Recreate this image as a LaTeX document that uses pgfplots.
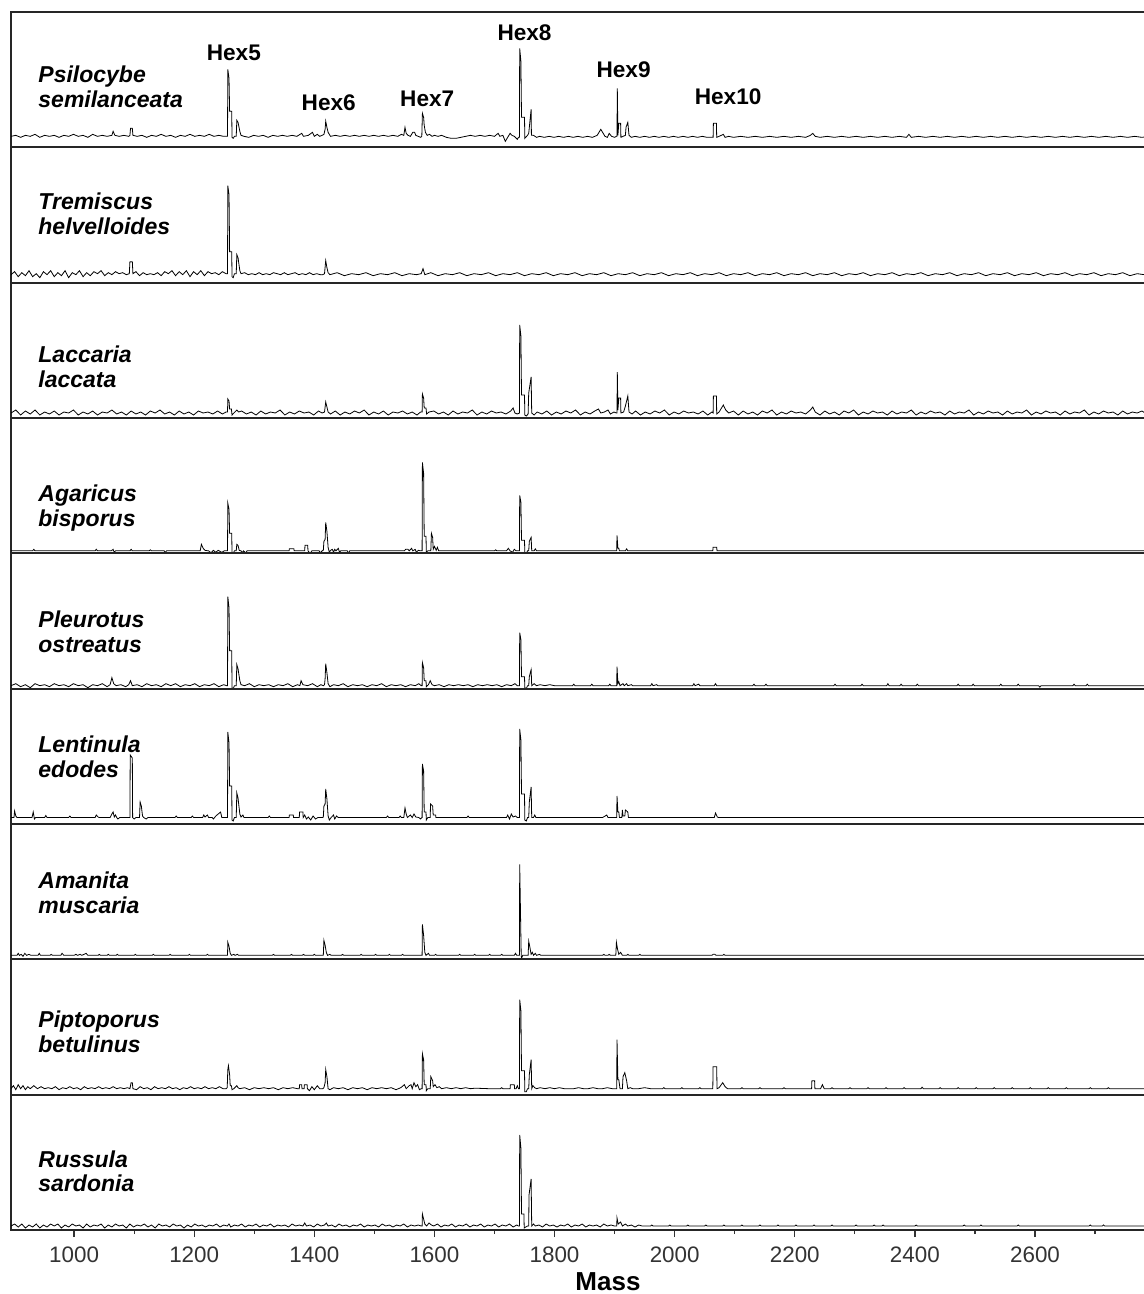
\documentclass[border=0pt]{standalone}
\usepackage{fontspec}
\setmainfont{Liberation Sans}
\usepackage{pgfplots}
\pgfplotsset{compat=1.18}
\usepgfplotslibrary{groupplots}
\usetikzlibrary{calc}

% 1 px of the reference = 0.5pt; y values are px above the panel floor
\tikzset{
  sp/.style={anchor=base west, inner sep=0pt, font=\fontsize{11.5}{13}\selectfont\bfseries\itshape},
  hx/.style={anchor=base, inner sep=0pt, font=\fontsize{11.3}{13}\selectfont\bfseries},
}

\begin{document}
\begin{tikzpicture}
\begin{groupplot}[
  group style={group size=1 by 9, vertical sep=0pt},
  scale only axis, width=597pt, height=67.667pt,
  xmin=895, xmax=2883, ymin=0, ymax=135.33,
  xtick=\empty, ytick=\empty,
  axis line style={line width=1pt, black!85},
  cycle list={{black, mark=none, line width=0.5pt}},
  no markers,
  /pgf/number format/1000 sep={}, /pgf/number format/assume math mode=true,
  scaled x ticks=false,
]
% ---- Psilocybe semilanceata
\nextgroupplot
\addplot coordinates {(895,11)(903,12)(911,10)(919,12)(927,11)(935,13)(943,10)(951,12)(959,11)(967,12)(975,10)(983,12)(991,11)(999,13)(1007,11)(1015,12)(1023,10)(1031,13)(1039,11)(1047,12)(1055,11)(1063,12)(1065,16)(1068,12)(1075,11)(1083,12)(1091,11)(1093,12)(1094,19)(1097,19)(1098,12)(1105,11)(1113,12)(1121,10)(1129,12)(1137,11)(1145,13)(1153,11)(1161,12)(1169,10)(1177,12)(1185,11)(1193,13)(1201,11)(1209,12)(1217,11)(1225,13)(1233,11)(1241,12)(1249,11)(1254,11)
(1255.5,11)(1256,78)(1258,69)(1259,36)(1262.5,36)(1263,10)(1265,9)(1267,11)(1270,11)(1271,27)(1273,25)(1276,16)(1278,12)(1283,11)(1291,10)(1299,12)(1307,11)(1315,12)(1323,10)(1331,12)(1339,11)(1347,12)(1355,11)(1363,12)(1371,11)(1379,14)(1382,11)(1390,12)(1397,15)(1400,11)(1405,13)(1409,11)(1413,12)
(1416,13)(1418,18)(1419,26)(1421,20)(1423,15)(1425,13)(1427,11)(1435,12)(1443,11)(1451,12)(1459,11)(1467,12)(1475,11)(1483,12)(1491,11)(1499,12)(1507,11)(1515,12)(1523,11)(1531,12)(1539,11)(1545,13)(1549,12)(1551,20)(1553,14)(1556,12)(1560,11)(1564,15)(1567,15)(1569,12)(1573,11)(1577,10)
(1579,11)(1580,34)(1582,30)(1583,22)(1585,15)(1588,12)(1592,13)(1596,11)(1600,12)(1606,11)(1612,12)(1620,10)(1628,9)(1636,9)(1644,10)(1652,11)(1660,12)(1668,11)(1676,12)(1684,11)(1692,12)(1700,11)(1706,14)(1709,11)(1714,12)(1716,9)(1718,6)(1722,10)(1726,14)(1729,12)(1733,11)(1738,8)(1740,10)
(1741.5,10)(1742,99)(1744,86)(1745,30)(1750,30)(1750.5,9)(1752,10)(1755,12)(1757,14)(1761,38)(1761.5,12)(1765,12)(1770,10)(1775,11)(1783,10)(1791,11)(1799,10)(1807,11)(1815,10)(1823,11)(1831,10)(1839,11)(1847,10)(1855,11)(1863,10)(1871,12)(1877,18)(1881,14)(1884,11)(1888,10)(1891,14)(1895,11)(1900,10)(1903,11)
(1904,11)(1904.5,59)(1905.5,12)(1907,24)(1910,24)(1910.5,10)(1914,11)(1918,12)(1919,20)(1922,25)(1924,12)(1928,10)(1934,11)(1942,10)(1950,11)(1958,10)(1966,11)(1974,10)(1982,11)(1990,10)(1998,11)(2006,10)(2014,11)(2022,10)(2030,11)(2038,10)(2046,11)(2054,10)(2062,10)
(2064,10)(2064.5,24)(2069.5,24)(2070,10)(2074,11)(2081,13)(2084,10)(2090,11)(2098,10)(2110,11)(2122,10)(2134,11)(2146,10)(2158,11)(2170,10)(2182,11)(2194,10)(2206,11)(2218,10)(2226,12)(2230,14)(2234,11)(2242,10)(2254,11)(2266,10)(2278,11)(2290,10)(2302,11)(2314,10)(2326,11)(2338,10)(2350,11)(2362,10)(2374,11)(2386,10)(2390,13)(2394,10)(2406,11)(2418,10)(2430,11)(2442,10)(2454,11)(2466,10)(2478,11)(2490,10)(2502,11)(2514,10)(2526,11)(2538,10)(2550,11)(2562,10)(2574,11)(2586,10)(2598,11)(2610,10)(2622,11)(2634,10)(2646,11)(2658,10)(2670,11)(2682,10)(2694,11)(2706,10)(2718,11)(2730,10)(2742,11)(2754,10)(2766,11)(2778,10)(2790,11)};
\node[sp] at (axis cs:940,64.6) {Psilocybe};
\node[sp] at (axis cs:940,40.3) {semilanceata};
\node[hx] at (axis cs:1266,87.3) {Hex5};
\node[hx] at (axis cs:1424,37.3) {Hex6};
\node[hx] at (axis cs:1588,40.7) {Hex7};
\node[hx] at (axis cs:1750,106.7) {Hex8};
\node[hx] at (axis cs:1915,70) {Hex9};
\node[hx] at (axis cs:2089,43.3) {Hex10};
% ---- Tremiscus helvelloides
\nextgroupplot
\addplot coordinates {(895,8)(901,11)(907,6)(913,10)(919,7)(925,12)(931,6)(937,9)(943,5)(949,11)(955,8)(961,12)(967,6)(973,10)(979,7)(985,12)(991,5)(997,10)(1003,8)(1009,12)(1015,6)(1021,10)(1027,7)(1033,11)(1039,9)(1045,12)(1051,7)(1057,10)(1063,8)(1069,11)(1075,9)(1081,10)(1087,8)(1092,9)(1093,21)(1097,21)(1098,9)(1103,11)(1109,7)(1115,10)(1121,8)(1127,9)(1133,8)(1139,10)(1145,7)(1151,11)(1157,9)(1163,12)(1169,7)(1175,11)(1181,8)(1187,12)(1193,6)(1199,11)(1205,8)(1211,12)(1217,7)(1223,11)(1229,9)(1235,10)(1241,8)(1247,11)(1253,9)
(1255.5,9)(1256,97)(1258,88)(1259,31)(1262.5,31)(1263,6)(1265,5)(1267,9)(1270,9)(1271,28)(1273,25)(1276,12)(1278,9)(1284,10)(1290,8)(1296,9)(1302,8)(1308,10)(1314,8)(1320,9)(1326,8)(1332,10)(1338,9)(1344,8)(1350,10)(1356,8)(1362,9)(1368,10)(1374,8)(1380,9)(1386,8)(1392,10)(1398,8)(1404,9)(1410,8)(1414,8)
(1417,9)(1419,22)(1421,15)(1423,10)(1426,8)(1438,10)(1450,7)(1462,9)(1474,8)(1486,10)(1498,7)(1510,9)(1522,8)(1534,10)(1546,7)(1558,9)(1570,8)(1578,9)(1581,14)(1584,8)(1594,10)(1606,7)(1618,9)(1630,8)(1642,10)(1654,7)(1666,9)(1678,8)(1690,10)(1702,7)(1714,9)(1726,8)(1738,10)(1750,7)(1762,9)(1774,8)(1786,10)(1798,7)(1810,9)(1822,8)(1834,10)(1846,7)(1858,9)(1870,8)(1882,10)(1894,7)(1906,9)(1918,8)(1930,10)(1942,7)(1954,9)(1966,8)(1978,10)(1990,7)(2002,9)(2014,8)(2026,10)(2038,7)(2050,9)(2062,8)(2074,10)(2086,7)(2098,9)(2110,8)(2122,10)(2134,7)(2146,9)(2158,8)(2170,10)(2182,7)(2194,9)(2206,8)(2218,10)(2230,7)(2242,9)(2254,8)(2266,10)(2278,7)(2290,9)(2302,8)(2314,10)(2326,7)(2338,9)(2350,8)(2362,10)(2374,7)(2386,9)(2398,8)(2410,10)(2422,7)(2434,9)(2446,8)(2458,10)(2470,7)(2482,9)(2494,8)(2506,10)(2518,7)(2530,9)(2542,8)(2554,10)(2566,7)(2578,9)(2590,8)(2602,10)(2614,7)(2626,9)(2638,8)(2650,10)(2662,7)(2674,9)(2686,8)(2698,10)(2710,7)(2722,9)(2734,8)(2746,10)(2758,7)(2770,9)(2782,8)(2794,9)};
\node[sp] at (axis cs:940,73) {Tremiscus};
\node[sp] at (axis cs:940,48) {helvelloides};
% ---- Laccaria laccata
\nextgroupplot
\addplot coordinates {(895,5)(903,8)(911,3)(919,7)(927,4)(935,8)(943,3)(951,6)(959,4)(967,7)(975,3)(983,6)(991,5)(999,8)(1007,3)(1015,6)(1023,4)(1031,7)(1039,3)(1047,6)(1055,5)(1063,8)(1071,4)(1079,6)(1087,3)(1095,7)(1103,4)(1111,6)(1119,3)(1127,7)(1135,5)(1143,8)(1151,4)(1159,6)(1167,3)(1175,7)(1183,4)(1191,6)(1199,3)(1207,7)(1215,5)(1223,6)(1231,4)(1239,7)(1247,4)(1253,6)
(1255.5,6)(1256,19)(1258,17)(1259,9)(1262,9)(1263,3)(1266,5)(1271,8)(1274,6)(1279,7)(1287,4)(1295,6)(1303,3)(1311,7)(1319,4)(1327,6)(1335,5)(1343,8)(1351,3)(1359,6)(1367,4)(1375,7)(1383,5)(1391,6)(1399,3)(1407,7)(1413,5)
(1417,6)(1419,16)(1421,11)(1423,6)(1427,4)(1435,7)(1443,3)(1451,6)(1459,4)(1467,7)(1475,5)(1483,8)(1491,3)(1499,6)(1507,4)(1515,7)(1523,3)(1531,6)(1539,5)(1547,7)(1555,4)(1563,6)(1571,3)(1577,6)
(1579.5,6)(1580,24)(1582,20)(1583,10)(1586,10)(1587,4)(1591,6)(1599,7)(1607,4)(1615,6)(1623,3)(1631,7)(1639,4)(1647,6)(1655,5)(1663,8)(1671,3)(1679,6)(1687,4)(1695,7)(1703,5)(1711,6)(1719,4)(1727,7)(1731,10)(1734,5)(1738,4)
(1741.5,5)(1742,93)(1744,82)(1745,23)(1750,23)(1750.5,3)(1753,2)(1756,4)(1757,25)(1761,41)(1762,5)(1766,3)(1771,6)(1779,4)(1787,7)(1795,3)(1803,6)(1811,4)(1819,7)(1827,5)(1835,8)(1843,3)(1851,6)(1859,4)(1867,7)(1873,9)(1877,5)(1883,6)(1889,8)(1893,4)(1899,6)(1903,5)
(1904,5)(1904.5,46)(1905.5,8)(1907,20)(1910,20)(1910.5,5)(1915,6)(1918,12)(1922,22)(1924,6)(1929,4)(1935,7)(1943,3)(1951,6)(1959,4)(1967,7)(1975,5)(1983,8)(1991,3)(1999,6)(2007,4)(2015,7)(2023,5)(2031,6)(2039,4)(2047,7)(2055,3)(2062,6)
(2064,5)(2064.5,22)(2069.5,22)(2070,4)(2074,6)(2081,13)(2085,8)(2090,5)(2098,7)(2106,3)(2114,7)(2122,4)(2130,6)(2138,3)(2146,7)(2154,5)(2162,8)(2170,3)(2178,6)(2186,4)(2194,7)(2202,5)(2210,6)(2218,4)(2226,8)(2230,11)(2234,6)(2242,3)(2250,7)(2258,4)(2266,6)(2274,3)(2282,7)(2290,5)(2298,8)(2306,3)(2314,6)(2322,4)(2330,7)(2338,5)(2346,6)(2354,3)(2362,7)(2370,4)(2378,6)(2386,5)(2394,8)(2402,3)(2410,6)(2418,4)(2426,7)(2434,5)(2442,6)(2450,3)(2458,7)(2466,4)(2474,6)(2482,5)(2490,8)(2498,3)(2506,6)(2514,4)(2522,7)(2530,5)(2538,6)(2546,3)(2554,7)(2562,4)(2570,6)(2578,5)(2586,8)(2594,3)(2602,6)(2610,4)(2618,7)(2626,5)(2634,6)(2642,3)(2650,7)(2658,4)(2666,6)(2674,5)(2682,8)(2690,3)(2698,6)(2706,4)(2714,7)(2722,5)(2730,6)(2738,3)(2746,7)(2754,4)(2762,6)(2770,5)(2778,7)(2786,4)};
\node[sp] at (axis cs:940,55.3) {Laccaria};
\node[sp] at (axis cs:940,31) {laccata};
% ---- Agaricus bisporus
\nextgroupplot
\addplot coordinates {(895,2.5)(931,2.5)(933,4)(935,2.5)(1035,2.5)(1037,4)(1039,2.5)(1062,2.5)(1065,4)(1067,1)(1069,2.5)(1093,2.5)(1095,4)(1097,2.5)(1125,2.5)(1127,3.5)(1129,2.5)(1150,2.5)(1152,1)(1154,2.5)(1210,2.5)(1212,9)(1215,5)(1218,3)(1224,2.5)(1228,0.5)(1232,3)(1236,1)(1240,3)(1246,1)(1250,2.5)(1254,2.5)
(1255.5,2.5)(1256,50)(1258,44)(1259,20)(1262.5,20)(1263,1)(1265,0)(1267,2.5)(1270,2.5)(1271,9)(1273,8)(1275,3)(1278,2.5)(1280,0.5)(1282,2.5)(1286,0.5)(1288,2.5)(1358,2.5)(1358.5,4.5)(1366,4.5)(1366.5,2.5)(1384,2.5)(1384.5,8)(1389,8)(1389.5,2.5)(1393,0)(1396,2.5)(1408,2.5)(1410,0.5)(1413,2.5)
(1415,3)(1416,12)(1418,14)(1419,31)(1421,22)(1423,6)(1425,1)(1427,3)(1430,4)(1432,1)(1434,4)(1436,2.5)(1440,5)(1442,1)(1444,2.5)(1455,2.5)(1457,0)(1459,2.5)(1550,2.5)(1552,4)(1556,4)(1558,2.5)(1562,5)(1564,2.5)(1568,4)(1570,1)(1573,3)(1577,2.5)
(1579.5,2.5)(1580,91)(1582,80)(1583,17)(1586,17)(1586.5,1)(1589,2.5)(1594,2.5)(1595,20)(1597,16)(1598,4)(1600,7)(1603,3)(1605,6)(1607,2.5)(1700,2.5)(1702,3.5)(1704,2.5)(1720,2.5)(1723,5)(1726,2.5)(1730,1)(1733,4)(1736,2.5)(1740,2.5)
(1741.5,2.5)(1742,58)(1744,51)(1745,13)(1750,13)(1750.5,0.5)(1753,0)(1755,2.5)(1757,2.5)(1758,12)(1761,16)(1762,2.5)(1766,2.5)(1768,4.5)(1770,2.5)(1903.5,2.5)(1904,18)(1905.5,5)(1907,5)(1908,2.5)(1918,2.5)(1920,4.5)(1922,2.5)(2063.5,2.5)(2064,6)(2070,6)(2070.5,2.5)(2900,2.5)};
\node[sp] at (axis cs:940,52) {Agaricus};
\node[sp] at (axis cs:940,27) {bisporus};
% ---- Pleurotus ostreatus
\nextgroupplot
\addplot coordinates {(895,3)(903,5)(911,2)(919,4)(927,1)(935,5)(943,3)(951,4)(959,2)(967,5)(975,3)(983,4)(991,2)(999,5)(1007,3)(1015,4)(1023,1)(1031,4)(1039,3)(1047,5)(1055,2)(1060,4)(1063,11)(1066,5)(1070,3)(1078,4)(1086,2)(1091,4)(1094,8)(1097,3)(1105,4)(1113,2)(1121,5)(1129,3)(1137,4)(1145,2)(1153,5)(1161,3)(1169,5)(1177,2)(1185,4)(1193,3)(1201,5)(1209,2)(1217,4)(1225,3)(1233,5)(1241,2)(1249,4)(1254,3)
(1255.5,3)(1256,92)(1258,81)(1259,38)(1262.5,38)(1263,1)(1265,0)(1267,3)(1270,3)(1271,24)(1273,20)(1276,8)(1278,4)(1284,3)(1292,5)(1300,2)(1308,4)(1316,3)(1324,4)(1332,2)(1340,4)(1348,3)(1356,5)(1364,2)(1372,4)(1376,3)(1378,8)(1381,4)(1389,3)(1397,5)(1405,2)(1411,4)(1415,3)
(1417,4)(1418,10)(1419,25)(1421,16)(1423,5)(1426,2)(1432,4)(1440,3)(1448,5)(1456,2)(1464,4)(1472,3)(1480,4)(1488,2)(1496,4)(1504,3)(1512,5)(1520,2)(1528,4)(1536,3)(1544,4)(1552,2)(1560,4)(1568,3)(1574,5)(1578,3)
(1579.5,3)(1580,26)(1582,21)(1583,8)(1586,8)(1586.5,2)(1590,4)(1593,8)(1596,4)(1600,3)(1608,4)(1616,2)(1624,4)(1632,3)(1640,4)(1648,3)(1656,4)(1664,2)(1672,4)(1680,3)(1688,4)(1696,3)(1704,4)(1712,2)(1720,4)(1728,3)(1734,5)(1738,3)
(1741.5,3)(1742,56)(1744,49)(1745,12)(1750,12)(1750.5,1)(1753,0)(1755,3)(1757,3)(1758,12)(1761,19)(1762,3)(1766,5)(1770,3)(1776,4)(1784,3)(1792,4)(1800,3)(1830,3)(1832,4.5)(1834,3)(1860,3)(1862,4.5)(1864,3)(1890,3)(1892,4.5)(1894,3)
(1903.5,3)(1904,22)(1905.5,5)(1907,7)(1909,3)(1914,5)(1916,3)(1920,5)(1922,3)(1928,4)(1930,3)(1960,3)(1962,5)(1964,3)(1970,4)(1972,3)(2030,3)(2032,5)(2034,3)(2040,4.5)(2042,3)(2066,3)(2068,5)(2070,3)(2130,3)(2132,4.5)(2134,3)(2150,3)(2152,4.5)(2154,3)(2265,3)(2267,4.5)(2269,3)(2310,3)(2312,4.5)(2314,3)(2353,3)(2355,5)(2357,3)(2375,3)(2377,4.5)(2379,3)(2402,3)(2404,4.5)(2406,3)(2470,3)(2472,4.5)(2474,3)(2495,3)(2497,4.5)(2499,3)(2541,3)(2543,4.5)(2545,3)(2570,3)(2572,4.5)(2574,3)(2606,3)(2608,1.5)(2610,3)(2663,3)(2665,4.5)(2667,3)(2685,3)(2687,4.5)(2689,3)(2900,3)};
\node[sp] at (axis cs:940,61.3) {Pleurotus};
\node[sp] at (axis cs:940,36) {ostreatus};
% ---- Lentinula edodes
\nextgroupplot
\addplot coordinates {(895,6.5)(900,6.5)(901,13)(903,8)(905,6.5)(930,6.5)(932,12)(934,5)(936,6.5)(951,6.5)(953,8.5)(955,6.5)(991,6.5)(993,8)(995,6.5)(1035,6.5)(1037,9)(1040,7)(1042,6.5)(1060,6.5)(1063,10)(1065,12)(1067,7)(1069,9)(1071,6.5)(1073,5)(1076,6.5)(1093,6.5)(1093.5,69)(1097,66)(1097.5,6.5)(1100,5)(1103,6.5)(1109,6.5)(1110,22)(1112,18)(1114,8)(1116,6.5)(1120,5)(1123,6.5)(1168,6.5)(1170,8)(1172,6.5)(1195,6.5)(1197,8)(1199,6.5)(1214,6.5)(1216,9)(1218,7)(1222,9)(1224,6.5)(1230,6.5)(1232,5)(1236,8)(1240,10)(1244,12)(1246,6.5)(1254,6.5)
(1255.5,6.5)(1256,92)(1258,81)(1259,38)(1262.5,38)(1263,4)(1265,3)(1267,6.5)(1270,6.5)(1271,31)(1273,26)(1276,10)(1278,7)(1281,9)(1283,6.5)(1323,6.5)(1325,8)(1327,6.5)(1358,6.5)(1358.5,9)(1365,9)(1365.5,6.5)(1375,6.5)(1375.5,12)(1381,12)(1381.5,6.5)(1384,9)(1387,5)(1390,7)(1394,4)(1398,8)(1402,5)(1406,6.5)(1414,6.5)
(1415,7)(1416,18)(1418,20)(1419,35)(1421,25)(1423,8)(1425,4)(1428,6.5)(1432,9)(1434,5)(1437,8)(1440,6.5)(1446,6.5)(1520,6.5)(1522,8)(1524,6.5)(1541,6.5)(1543,8)(1545,6.5)(1549,6.5)(1551,16)(1553,10)(1555,6.5)(1560,9)(1563,6.5)(1566,10)(1569,7)(1574,6.5)(1577,5)(1579,6.5)
(1579.5,6.5)(1580,60)(1582,53)(1583,12)(1586,12)(1586.5,4)(1589,6.5)(1593,6.5)(1593.5,20)(1597,18)(1598,9)(1602,9)(1602.5,6.5)(1606,6.5)(1654,6.5)(1656,8)(1658,6.5)(1720,6.5)(1722,9)(1725,5)(1728,10)(1731,7)(1735,8)(1738,6.5)(1740,6.5)
(1741.5,6.5)(1742,95)(1744,84)(1745,30)(1750,30)(1750.5,4)(1753,3)(1755,6.5)(1757,6.5)(1758,22)(1761,37)(1762,6.5)(1765,6.5)(1767,9)(1769,6.5)(1880,6.5)(1887,9)(1889,6.5)
(1903.5,6.5)(1904,28)(1905.5,12)(1907,12)(1908,6.5)(1912,6.5)(1913,14)(1914,8)(1917,8)(1918,14)(1922,12)(1923,6.5)(2066,6.5)(2068,11)(2071,7)(2073,6.5)(2900,6.5)};
\node[sp] at (axis cs:940,72) {Lentinula};
\node[sp] at (axis cs:940,46.3) {edodes};
% ---- Amanita muscaria
\nextgroupplot
\addplot coordinates {(895,4)(905,4)(907,6)(909,4)(912,5)(915,3)(918,6)(921,4)(925,5)(928,4)(940,4)(942,6)(944,4)(960,4)(962,5)(964,4)(978,4)(980,6)(983,4)(1000,4)(1003,5)(1006,4)(1010,5)(1013,4)(1020,6)(1023,4)(1040,4)(1042,5)(1044,4)(1055,4)(1057,5)(1059,4)(1070,4)(1072,5)(1074,4)(1100,4)(1102,5)(1104,4)(1130,4)(1132,5)(1134,4)(1158,4)(1160,5)(1162,4)(1190,4)(1192,5)(1194,4)(1220,4)(1222,5)(1224,4)
(1255.5,4)(1256,17)(1258,13)(1260,6)(1262,4)(1266,5)(1268,4)(1272,5)(1274,4)(1330,4)(1332,5)(1334,4)(1360,4)(1362,5)(1364,4)(1380,4)(1382,5)(1384,4)(1398,4)(1400,5)(1402,4)
(1415,4)(1416,19)(1418,14)(1420,7)(1422,4)(1426,5)(1428,4)(1445,4)(1447,5)(1449,4)(1476,4)(1478,5)(1480,4)(1500,4)(1502,5)(1504,4)(1523,4)(1525,5)(1527,4)(1545,4)(1547,5)(1549,4)
(1579.5,4)(1580,35)(1582,24)(1584,7)(1586,4)(1590,6)(1592,4)(1600,4)(1602,5)(1604,4)(1640,4)(1642,5)(1644,4)(1665,4)(1667,5)(1669,4)(1690,4)(1692,5)(1694,4)(1710,4)(1712,5)(1714,4)(1733,4)(1735,6)(1737,4)
(1741.5,4)(1742,95)(1743.5,40)(1744.5,4)(1745,1)(1747,4)(1756,4)(1757,18)(1759,12)(1761,5)(1763,7)(1765,4)(1768,6)(1770,4)(1775,5)(1777,4)
(1880,4)(1882,5)(1884,4)(1889,4)(1891,5)(1893,4)(1902,4)(1903,17)(1905,10)(1907,5)(1910,7)(1913,4)(1920,4)(1922,5)(1924,4)(1940,4)(1942,5)(1944,4)(2062,4)(2064,5)(2067,5)(2069,4)(2080,4)(2082,5)(2084,4)(2900,4)};
\node[sp] at (axis cs:940,71) {Amanita};
\node[sp] at (axis cs:940,46) {muscaria};
% ---- Piptoporus betulinus
\nextgroupplot
\addplot coordinates {(895,6)(899,9)(903,5)(907,10)(911,6)(915,9)(919,5)(923,8)(927,6)(933,9)(939,6)(945,8)(951,6)(957,7)(963,6)(969,8)(975,5)(981,7)(987,6)(993,8)(999,6)(1005,7)(1011,5)(1017,8)(1023,6)(1029,7)(1035,6)(1041,8)(1047,6)(1053,7)(1059,6)(1065,8)(1071,6)(1077,7)(1083,6)(1089,7)(1093,6)(1095,12)(1097,12)(1098,6)(1104,5)(1110,8)(1116,6)(1122,7)(1128,5)(1134,8)(1140,6)(1146,7)(1152,6)(1158,8)(1164,6)(1170,7)(1176,5)(1182,7)(1188,6)(1194,8)(1200,6)(1206,7)(1212,6)(1218,8)(1224,6)(1230,7)(1236,6)(1242,8)(1248,6)(1253,6)
(1255,7)(1256,25)(1257,29)(1259,20)(1260,9)(1262,9)(1263,5)(1266,6)(1271,9)(1273,7)(1276,6)(1284,7)(1292,5)(1300,7)(1308,6)(1316,7)(1324,6)(1332,7)(1340,5)(1348,7)(1356,6)(1364,7)(1372,6)(1375,6)(1375.5,10)(1379,10)(1379.5,6)(1383,6)(1383.5,10)(1388,10)(1388.5,6)(1392,4)(1396,8)(1400,5)(1405,9)(1409,6)(1414,6)
(1416,7)(1418,12)(1419,25)(1421,18)(1423,6)(1426,5)(1432,7)(1440,6)(1448,7)(1456,5)(1464,7)(1472,6)(1480,7)(1488,5)(1496,7)(1504,6)(1512,7)(1520,6)(1528,7)(1536,5)(1544,7)(1550,10)(1553,6)(1558,9)(1561,10)(1563,6)(1566,12)(1569,8)(1572,10)(1575,5)(1578,6)
(1579.5,6)(1580,41)(1582,35)(1583,10)(1586,10)(1586.5,4)(1589,6)(1593,6)(1594,18)(1597,14)(1598,8)(1601,10)(1604,7)(1608,8)(1612,6)(1620,7)(1628,6)(1636,7)(1644,6)(1652,7)(1660,6)(1668,6.5)(1690,6)(1700,6)(1710,6)(1712,7)(1714,6)(1726,6)(1726.5,10)(1733,10)(1733.5,6)(1736,6)(1738,9)(1740,6)
(1741.5,6)(1742,95)(1744,84)(1745,24)(1750,24)(1750.5,3)(1753,3)(1755,6)(1757,6)(1758,20)(1761,35)(1762,6)(1764,9)(1767,7)(1770,6)(1776,7)(1784,6)(1792,7)(1800,6)(1808,7)(1816,6)(1824,6)(1832,6)(1840,7)(1848,6)(1856,6)(1864,7)(1872,6)(1880,6)(1888,7)(1896,6)(1900,6)
(1903.5,6)(1904,55)(1905.5,15)(1907,15)(1909,6)(1913,6)(1914,18)(1917,22)(1920,14)(1922,6)(1926,7)(1930,6)(1940,6)(1950,7)(1960,6)(1980,6)(1982,7)(1984,6)(2010,6)(2012,7)(2014,6)(2040,6)(2042,7)(2044,6)
(2063.5,6)(2064,28)(2070,28)(2070.5,6)(2074,7)(2080,12)(2084,8)(2088,6)(2110,6)(2112,7)(2114,6)(2140,6)(2142,7)(2144,6)(2180,6)(2182,7)(2184,6)(2228,6)(2228.5,14)(2233,14)(2233.5,6)(2243,6)(2246,10)(2249,6)(2260,6)(2262,7)(2264,6)(2290,6)(2292,7)(2294,6)(2320,6)(2322,7)(2324,6)(2350,6)(2352,7)(2354,6)(2380,6)(2382,7)(2384,6)(2410,6)(2412,7.5)(2414,6)(2440,6)(2442,7)(2444,6)(2470,6)(2472,7)(2474,6)(2500,6)(2502,7)(2504,6)(2530,6)(2532,7)(2534,6)(2560,6)(2562,7)(2564,6)(2590,6)(2592,7)(2594,6)(2620,6)(2622,7)(2624,6)(2650,6)(2652,7)(2654,6)(2690,6)(2692,7)(2694,6)(2720,6)(2722,7)(2724,6)(2900,6)};
\node[sp] at (axis cs:940,67) {Piptoporus};
\node[sp] at (axis cs:940,42) {betulinus};
% ---- Russula sardonia
\nextgroupplot[
  xtick={1000,1200,...,2600}, minor xtick={1100,1300,...,2700},
  xtick pos=bottom, tick align=outside,
  major tick length=3.5pt, minor tick length=2pt,
  every tick/.style={black!80, line width=0.6pt},
  xticklabel style={font=\fontsize{11.2}{13}\selectfont, text=black!80, yshift=-1.5pt},
]
\addplot coordinates {(895,4)(901,6)(907,3)(913,6)(919,2)(925,5)(931,3)(937,6)(943,2)(949,5)(955,3)(961,6)(967,4)(973,6)(979,2)(985,5)(991,3)(997,6)(1003,4)(1009,5)(1015,2)(1021,6)(1027,3)(1033,5)(1039,4)(1045,6)(1051,2)(1057,5)(1063,3)(1069,6)(1075,4)(1081,5)(1087,2)(1093,6)(1099,3)(1105,5)(1111,4)(1117,6)(1123,3)(1129,5)(1135,2)(1141,6)(1147,4)(1153,5)(1159,3)(1165,6)(1171,4)(1177,5)(1183,2)(1189,5)(1195,3)(1201,6)(1207,4)(1213,5)(1219,3)(1225,5)(1231,4)(1237,6)(1243,3)(1249,5)(1255,4)(1258,6)(1261,3)(1267,5)(1273,4)(1279,6)(1285,3)(1291,5)(1297,4)(1303,6)(1309,3)(1315,5)(1321,4)(1327,6)(1333,3)(1339,5)(1345,4)(1351,5)(1357,3)(1363,6)(1369,4)(1375,5)(1381,4)(1384,7)(1387,4)(1393,5)(1399,3)(1405,6)(1411,4)(1417,5)(1420,7)(1423,4)(1429,5)(1435,3)(1441,6)(1447,4)(1453,5)(1459,3)(1465,5)(1471,4)(1477,6)(1483,3)(1489,5)(1495,4)(1501,5)(1507,3)(1513,6)(1519,4)(1525,5)(1531,3)(1537,5)(1543,4)(1549,6)(1555,3)(1561,5)(1567,4)(1573,5)(1578,4)
(1579.5,4)(1580,16)(1582,11)(1584,6)(1587,4)(1591,7)(1595,5)(1599,4)(1605,6)(1611,3)(1617,5)(1623,4)(1629,6)(1635,3)(1641,5)(1647,4)(1653,6)(1659,3)(1665,5)(1671,4)(1677,6)(1683,3)(1689,5)(1695,4)(1701,6)(1707,3)(1713,5)(1719,4)(1725,6)(1731,3)(1737,5)(1740,4)
(1741.5,4)(1742,95)(1744,82)(1745,16)(1749,16)(1749.5,2)(1752,3)(1755,4)(1757,4)(1757.5,35)(1761,51)(1762,4)(1765,6)(1768,4)(1774,5)(1780,3)(1786,6)(1792,4)(1798,5)(1804,3)(1810,5)(1816,4)(1822,6)(1828,3)(1834,5)(1840,4)(1846,6)(1852,3)(1858,5)(1864,4)(1870,5)(1876,3)(1882,6)(1888,4)(1894,5)(1900,4)
(1903.5,4)(1904,12)(1906,6)(1910,8)(1913,4)(1918,6)(1922,4)(1928,5)(1934,3)(1940,5)(1946,4)(1960,4)(1962,5)(1964,4)(1990,4)(1992,5)(1994,4)(2020,4)(2022,5)(2024,4)(2050,4)(2052,5)(2054,4)(2080,4)(2082,5)(2084,4)(2110,4)(2112,5)(2114,4)(2140,4)(2142,5)(2144,4)(2170,4)(2172,5)(2174,4)(2200,4)(2202,5)(2204,4)(2230,4)(2232,5)(2234,4)(2260,4)(2262,5)(2264,4)(2300,4)(2302,5)(2304,4)(2330,4)(2332,5)(2334,4)(2345,4)(2347,5)(2349,4)(2400,4)(2402,5)(2404,4)(2480,4)(2482,5)(2484,4)(2508,4)(2510,5)(2512,4)(2570,4)(2572,5)(2574,4)(2690,4)(2692,5)(2694,4)(2712,4)(2714,5)(2716,4)(2900,4)};
\node[sp] at (axis cs:940,63) {Russula};
\node[sp] at (axis cs:940,39) {sardonia};
\end{groupplot}
\node[anchor=base, inner sep=0pt, font=\fontsize{13}{15}\selectfont\bfseries] at ($(group c1r9.south west)+(298.5pt,-30pt)$) {Mass};
\pgfresetboundingbox
\path[use as bounding box] ($(group c1r1.north west)+(-5.5pt,6pt)$) rectangle ($(group c1r9.south west)+(566.5pt,-32pt)$);
\end{tikzpicture}
\end{document}
